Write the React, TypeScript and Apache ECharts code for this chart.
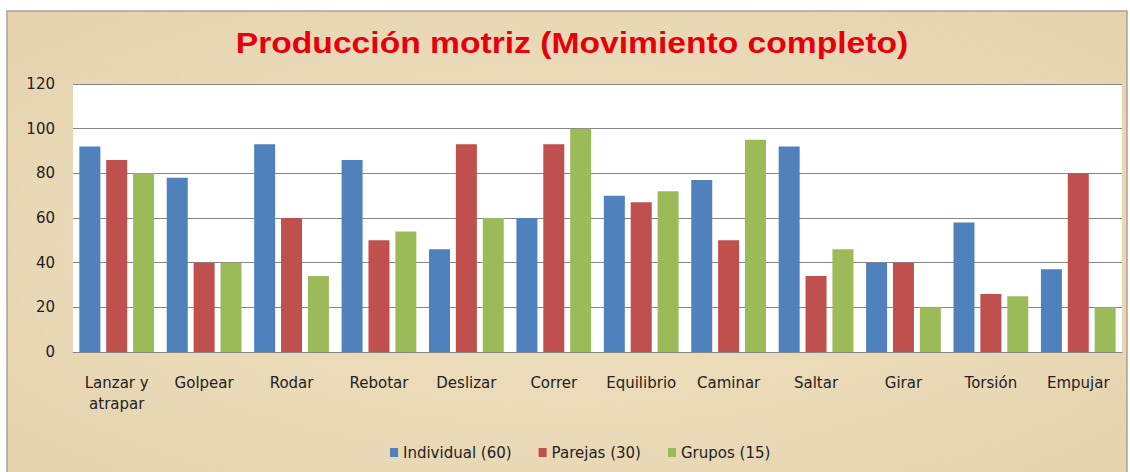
import React, { useEffect, useRef } from "react";
import * as echarts from "echarts";

const categories = ["Lanzar y\natrapar", "Golpear", "Rodar", "Rebotar", "Deslizar", "Correr", "Equilibrio", "Caminar", "Saltar", "Girar", "Torsión", "Empujar"];
const individual = [92, 78, 93, 86, 46, 60, 70, 77, 92, 40, 58, 37];
const parejas = [86, 40, 60, 50, 93, 93, 67, 50, 34, 40, 26, 80];
const grupos = [80, 40, 34, 54, 60, 100, 72, 95, 46, 20, 25, 20];
const seriesNames = ["Individual (60)", "Parejas (30)", "Grupos (15)"];
const colors = ["#4f81bd", "#c0504d", "#9bbb59"];
const titleText = "Producción motriz (Movimiento completo)";

export default function App() {
  const ref = useRef<HTMLDivElement>(null);
  useEffect(() => {
    document.body.style.margin = "0";
    const chart = echarts.init(ref.current!, undefined, { renderer: "svg" });
    const font = "'DejaVu Sans', sans-serif";
    const data = [individual, parejas, grupos];
    chart.setOption({
      animation: false,
      backgroundColor: "#ffffff",
      graphic: [
        {
          type: "rect",
          z: -10,
          silent: true,
          shape: { x: 7, y: 11, width: 1120, height: 470 },
          style: {
            fill: new echarts.graphic.RadialGradient(0.5, 0.5, 0.8, [
              { offset: 0, color: "#eee0c0" },
              { offset: 0.6, color: "#e9d8b5" },
              { offset: 1, color: "#e3cfaa" },
            ]),
            stroke: "#a8a39a",
            lineWidth: 1.5,
          },
        },
        {
          type: "text",
          x: 572,
          y: 43,
          scaleX: 1.16,
          z: 10,
          silent: true,
          style: {
            text: titleText,
            align: "center",
            verticalAlign: "middle",
            fontFamily: "'Liberation Sans', Arial, sans-serif",
            fontWeight: "bold",
            fontSize: 29,
            fill: "#e5000c",
          },
        },
      ],
      color: colors,
      legend: {
        data: seriesNames,
        top: 440,
        left: 385,
        itemWidth: 8,
        itemHeight: 9,
        itemGap: 27,
        icon: "rect",
        textStyle: { fontFamily: font, fontSize: 15, color: "#222" },
      },
      grid: {
        left: 73,
        right: 8,
        top: 84,
        bottom: 120,
        show: true,
        backgroundColor: "#ffffff",
        borderWidth: 0,
      },
      xAxis: {
        type: "category",
        data: categories,
        axisLine: { lineStyle: { color: "#868686", width: 1 } },
        axisTick: { show: false },
        axisLabel: {
          fontFamily: font,
          fontSize: 15,
          color: "#222",
          margin: 20,
          lineHeight: 21,
          interval: 0,
        },
      },
      yAxis: {
        type: "value",
        min: 0,
        max: 120,
        interval: 20,
        axisLine: { show: false },
        axisTick: { show: false },
        splitLine: { lineStyle: { color: "#868686", width: 1 } },
        axisLabel: { fontFamily: font, fontSize: 15, color: "#222", margin: 18 },
      },
      series: seriesNames.map((name, i) => ({
        name,
        type: "bar",
        data: data[i],
        barWidth: 21,
        barGap: "28%",
        itemStyle: { color: colors[i] },
      })),
    });
    return () => chart.dispose();
  }, []);
  return <div ref={ref} style={{ width: 1130, height: 472 }} />;
}
